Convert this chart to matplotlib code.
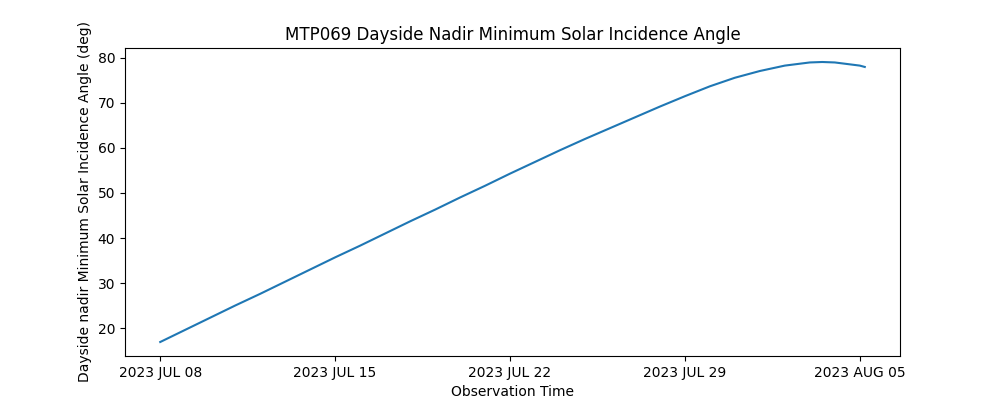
import datetime as dt
import matplotlib
matplotlib.use("Agg")
import matplotlib.pyplot as plt
import matplotlib.dates as mdates
from matplotlib.ticker import FuncFormatter

# observation days relative to 2023 JUL 08 and incidence angle (deg)
day_offsets = [0, 1, 2, 3, 4, 5, 6, 7, 8, 9, 10, 11, 12, 13, 14,
               15, 16, 17, 18, 19, 20, 21, 22, 23, 24, 25, 26, 26.5,
               27, 28, 28.2]
incidence = [16.9, 19.6, 22.3, 25.0, 27.6, 30.3, 33.0, 35.7, 38.3, 41.0,
             43.7, 46.3, 49.0, 51.6, 54.3, 56.9, 59.5, 62.0, 64.4, 66.8,
             69.2, 71.5, 73.7, 75.6, 77.1, 78.3, 79.0, 79.1, 79.0, 78.3, 78.0]

start = dt.datetime(2023, 7, 8)
times = [start + dt.timedelta(days=d) for d in day_offsets]

fig, ax = plt.subplots(figsize=(10, 4), dpi=100)
ax.plot(times, incidence, color='#1f77b4', linewidth=1.5)

ax.xaxis.set_major_locator(mdates.WeekdayLocator(byweekday=mdates.SA))
fmt = mdates.DateFormatter('%Y %b %d')
ax.xaxis.set_major_formatter(FuncFormatter(lambda x, pos: fmt(x, pos).upper()))

ax.set_xlabel('Observation Time')
ax.set_ylabel('Dayside nadir Minimum Solar Incidence Angle (deg)')
ax.set_title('MTP069 Dayside Nadir Minimum Solar Incidence Angle')

fig.savefig('out.png', dpi=100)
